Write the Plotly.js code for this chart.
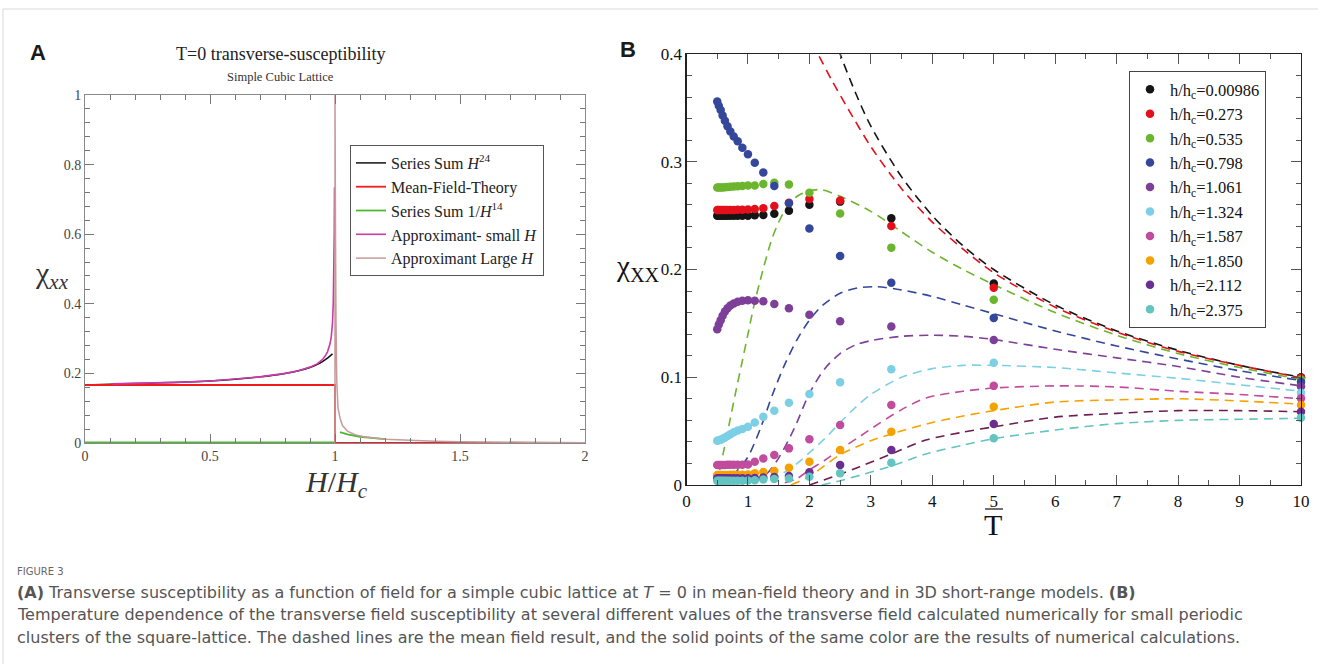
<!DOCTYPE html>
<html>
<head>
<meta charset="utf-8">
<script src="https://cdn.plot.ly/plotly-3.0.1.min.js"></script>
<style>
html,body{margin:0;padding:0;background:#fff;}
#chart{width:1318px;height:664px;}
</style>
</head>
<body>
<div id="chart"></div>
<script>
// ---------- Panel A data (H/Hc vs chi_xx) ----------
const seriesH24_H = [0, 0.1, 0.2, 0.3, 0.4, 0.5, 0.6, 0.7, 0.8, 0.85, 0.9, 0.93, 0.95, 0.97, 0.99];
const seriesH24_chi = [0.1667, 0.169, 0.171, 0.173, 0.175, 0.178, 0.183, 0.190, 0.200, 0.207, 0.217, 0.226, 0.234, 0.244, 0.256];

const mft_H = [0, 1, 1, 2];
const mft_chi = [0.1667, 0.1667, 0, 0];

const seriesInv_H = [0, 1, null, 1.02, 1.05, 1.1, 1.15, 1.2];
const seriesInv_chi = [0.002, 0.002, null, 0.031, 0.025, 0.018, 0.014, 0.011];

const approxSmall_H = [0.11, 0.2, 0.3, 0.4, 0.5, 0.6, 0.7, 0.8, 0.85, 0.9, 0.93, 0.95, 0.96, 0.97, 0.98, 0.985, 0.99, 0.993, 0.995, 0.997, 0.998];
const approxSmall_chi = [0.170, 0.171, 0.173, 0.175, 0.178, 0.183, 0.190, 0.200, 0.207, 0.218, 0.228, 0.240, 0.249, 0.262, 0.285, 0.305, 0.345, 0.40, 0.48, 0.60, 0.735];

const approxLarge_H = [1.0, 1.0, 1.002, 1.004, 1.007, 1.012, 1.02, 1.03, 1.05, 1.08, 1.12, 1.2, 1.3, 1.4, 1.5, 1.7, 2.0];
const approxLarge_chi = [0.0, 1.0, 0.60, 0.35, 0.18, 0.10, 0.072, 0.05, 0.034, 0.024, 0.017, 0.011, 0.007, 0.005, 0.0035, 0.002, 0.001];

const legendA = ["Series Sum <i>H</i><sup>24</sup>", "Mean-Field-Theory", "Series Sum 1/<i>H</i><sup>14</sup>", "Approximant- small <i>H</i>", "Approximant Large <i>H</i>"];
const ticksA_x = [0, 0.5, 1, 1.5, 2];
const ticksA_y = [0, 0.2, 0.4, 0.6, 0.8, 1];

// ---------- Panel B data (T vs chi_xx) ----------
const T_pts = [0.5, 0.526, 0.556, 0.588, 0.625, 0.667, 0.714, 0.769, 0.833, 0.909, 1.0, 1.111, 1.25, 1.429, 1.667, 2.0, 2.5, 3.333, 5.0, 10.0];

const pts_00986 = [0.250,0.250,0.250,0.250,0.250,0.250,0.250,0.250,0.250,0.250,0.250,0.2503,0.2506,0.2518,0.2546,0.260,0.263,0.2475,0.187,0.0999];
const pts_0273  = [0.2552,0.2552,0.2552,0.2552,0.2552,0.2552,0.2553,0.2553,0.2554,0.2555,0.2557,0.2562,0.2568,0.259,0.262,0.2654,0.264,0.2404,0.183,0.0995];
const pts_0535  = [0.276,0.276,0.276,0.2762,0.2764,0.2766,0.2768,0.277,0.2773,0.2776,0.278,0.278,0.2793,0.2806,0.279,0.2713,0.252,0.2203,0.172,0.098];
const pts_0798  = [0.356,0.352,0.348,0.343,0.338,0.333,0.328,0.3235,0.319,0.313,0.307,0.299,0.290,0.2775,0.2614,0.238,0.2125,0.1877,0.155,0.0955];
const pts_1061  = [0.1445,0.149,0.153,0.157,0.161,0.164,0.1665,0.1685,0.170,0.171,0.1715,0.171,0.1705,0.168,0.164,0.158,0.152,0.147,0.1346,0.0915];
const pts_1324  = [0.041,0.0415,0.042,0.043,0.044,0.0455,0.047,0.049,0.0505,0.052,0.054,0.058,0.0634,0.069,0.0764,0.0845,0.0953,0.1074,0.1135,0.0857];
const pts_1587  = [0.0186,0.0186,0.0186,0.0186,0.0186,0.0187,0.0187,0.0188,0.0188,0.0189,0.019,0.0216,0.0247,0.0278,0.034,0.0424,0.0557,0.0742,0.092,0.0804];
const pts_1850  = [0.0093,0.0093,0.0093,0.0093,0.0093,0.0093,0.0094,0.0094,0.0095,0.0096,0.0098,0.011,0.012,0.013,0.016,0.0216,0.0325,0.0495,0.0727,0.0742];
const pts_2112  = [0.0062,0.0062,0.0062,0.0062,0.0062,0.0062,0.0062,0.0062,0.0062,0.0063,0.0063,0.0065,0.007,0.0075,0.0084,0.0118,0.0186,0.0325,0.0566,0.068];
const pts_2375  = [0.004,0.004,0.004,0.004,0.004,0.004,0.004,0.004,0.004,0.004,0.0042,0.0045,0.005,0.0055,0.006,0.0077,0.011,0.0207,0.0433,0.0625];

// mean-field dashed curves
const mfT_00986 = [2.4, 2.5, 2.75, 3, 3.5, 4, 4.5, 5, 6, 7, 8, 9, 10];
const mf_00986  = [0.417, 0.4, 0.364, 0.333, 0.286, 0.25, 0.222, 0.2, 0.167, 0.143, 0.125, 0.111, 0.1];
const mfT_0273 = [2.05, 2.14, 2.36, 2.6, 3.0, 3.5, 4.0, 4.5, 5, 6, 7, 8, 9, 10];
const mf_0273  = [0.41, 0.4, 0.376, 0.352, 0.314, 0.275, 0.244, 0.219, 0.197, 0.165, 0.142, 0.124, 0.111, 0.0995];
const mfT_0535 = [0.49, 0.6, 0.7, 0.8, 0.9, 1.0, 1.1, 1.2, 1.4, 1.6, 1.8, 2.0, 2.2, 2.5, 3.0, 3.5, 4.0, 4.5, 5, 6, 7, 8, 9, 10];
const mf_0535  = [0, 0.03, 0.058, 0.086, 0.113, 0.14, 0.167, 0.19, 0.23, 0.255, 0.268, 0.273, 0.274, 0.268, 0.254, 0.235, 0.216, 0.2, 0.186, 0.16, 0.139, 0.122, 0.109, 0.098];
const mfT_0798 = [0.55, 0.7, 0.85, 1.0, 1.2, 1.4, 1.6, 1.8, 2.0, 2.2, 2.5, 2.8, 3.1, 3.5, 4.0, 4.5, 5, 6, 7, 8, 9, 10];
const mf_0798  = [0, 0.006, 0.015, 0.026, 0.052, 0.084, 0.112, 0.135, 0.153, 0.166, 0.178, 0.183, 0.184, 0.181, 0.175, 0.167, 0.159, 0.143, 0.129, 0.117, 0.106, 0.097];
const mfT_1061 = [1.1, 1.3, 1.5, 1.75, 2.0, 2.25, 2.5, 2.75, 3.0, 3.5, 4.0, 4.5, 5, 6, 7, 8, 9, 10];
const mf_1061  = [0.002, 0.01, 0.025, 0.052, 0.085, 0.108, 0.122, 0.13, 0.134, 0.138, 0.139, 0.138, 0.135, 0.126, 0.118, 0.11, 0.1, 0.092];
const mfT_1324 = [1.36, 1.6, 1.8, 2.0, 2.25, 2.5, 2.75, 3.0, 3.5, 4.0, 4.5, 5, 6, 7, 8, 9, 10];
const mf_1324  = [0.0046, 0.012, 0.02, 0.03, 0.043, 0.058, 0.072, 0.084, 0.1, 0.108, 0.111, 0.111, 0.109, 0.104, 0.099, 0.093, 0.087];
const mfT_1587 = [1.6, 1.8, 2.0, 2.25, 2.5, 2.82, 3.0, 3.5, 3.91, 4.5, 5, 6, 7, 8, 9, 10];
const mf_1587  = [0.002, 0.006, 0.014, 0.023, 0.033, 0.045, 0.052, 0.07, 0.081, 0.087, 0.09, 0.092, 0.091, 0.087, 0.084, 0.08];
const mfT_1850 = [1.7, 2.0, 2.5, 3.0, 3.37, 4.0, 4.5, 5, 6, 7, 8, 9, 10];
const mf_1850  = [0.0, 0.008, 0.028, 0.041, 0.048, 0.058, 0.064, 0.069, 0.077, 0.079, 0.08, 0.078, 0.075];
const mfT_2112 = [2.0, 2.5, 2.82, 3.3, 3.91, 4.5, 5, 6, 7, 8, 9, 10];
const mf_2112  = [0.0, 0.01, 0.017, 0.028, 0.042, 0.049, 0.054, 0.063, 0.0665, 0.069, 0.069, 0.068];
const mfT_2375 = [2.2, 2.5, 2.82, 3.3, 3.91, 4.5, 5, 6, 7, 8, 9, 10];
const mf_2375  = [0.0, 0.004, 0.009, 0.017, 0.029, 0.037, 0.043, 0.051, 0.057, 0.06, 0.061, 0.062];

const fieldLabels = ["0.00986", "0.273", "0.535", "0.798", "1.061", "1.324", "1.587", "1.850", "2.112", "2.375"];
const ticksB_x = [0,1,2,3,4,5,6,7,8,9,10];
const ticksB_y = [0, 0.1, 0.2, 0.3, 0.4];

// ---------- styling ----------
const W = 1318, H = 664;
const px = v => v / W;
const py = v => 1 - v / H;
const SERIF = "Liberation Serif, Times New Roman, serif";
const CAP = "DejaVu Sans, sans-serif";

const ptColors = ["#151515", "#e3101c", "#6cb52e", "#34479b", "#7d3f98", "#7ccfe4", "#c14b9d", "#f5a200", "#6a2f8f", "#63c4c1"];
const lnColors = ["#151515", "#e3101c", "#6cb52e", "#34479b", "#7d3f98", "#7ccfe4", "#c14b9d", "#f5a200", "#6d1d52", "#63c4c1"];
const ptSeries = [pts_00986, pts_0273, pts_0535, pts_0798, pts_1061, pts_1324, pts_1587, pts_1850, pts_2112, pts_2375];
const mfX = [mfT_00986, mfT_0273, mfT_0535, mfT_0798, mfT_1061, mfT_1324, mfT_1587, mfT_1850, mfT_2112, mfT_2375];
const mfY = [mf_00986, mf_0273, mf_0535, mf_0798, mf_1061, mf_1324, mf_1587, mf_1850, mf_2112, mf_2375];

const data = [];
// Panel A traces
data.push({x: seriesH24_H, y: seriesH24_chi, mode: 'lines', name: legendA[0], line: {color: '#111', width: 1.5, shape: 'spline'}, xaxis: 'x', yaxis: 'y', legend: 'legend'});
data.push({x: mft_H, y: mft_chi, mode: 'lines', name: legendA[1], line: {color: '#ee1c1c', width: 1.8}, xaxis: 'x', yaxis: 'y', legend: 'legend'});
data.push({x: seriesInv_H, y: seriesInv_chi, mode: 'lines', name: legendA[2], line: {color: '#4cb830', width: 1.8}, connectgaps: false, xaxis: 'x', yaxis: 'y', legend: 'legend'});
data.push({x: approxSmall_H, y: approxSmall_chi, mode: 'lines', name: legendA[3], line: {color: '#cc3aa8', width: 1.6}, xaxis: 'x', yaxis: 'y', legend: 'legend'});
data.push({x: approxLarge_H, y: approxLarge_chi, mode: 'lines', name: legendA[4], line: {color: '#c89a9a', width: 1.5}, xaxis: 'x', yaxis: 'y', legend: 'legend'});

// Panel B dashed mean-field curves
for (let i = 0; i < 10; i++) {
  data.push({x: mfX[i], y: mfY[i], mode: 'lines', showlegend: false, hoverinfo: 'skip',
    line: {color: lnColors[i], width: 1.6, dash: '9px,6px', shape: 'spline', smoothing: 0.8},
    xaxis: 'x2', yaxis: 'y2'});
}
// Panel B points
for (let i = 0; i < 10; i++) {
  data.push({x: T_pts, y: ptSeries[i], mode: 'markers', name: 'h/h<sub>c</sub>=' + fieldLabels[i],
    marker: {color: ptColors[i], size: 8.5, line: {width: 0}},
    xaxis: 'x2', yaxis: 'y2', legend: 'legend2', cliponaxis: false});
}

const axA = {
  showgrid: false, zeroline: false, showline: true, linecolor: '#8a8a8a', linewidth: 1,
  mirror: 'allticks', ticks: 'inside', tickcolor: '#777', ticklen: 9, tickwidth: 1,
  tickfont: {family: SERIF, size: 14, color: '#444'}
};
const axB = {
  showgrid: false, zeroline: false, showline: true, linecolor: '#222', linewidth: 1.2,
  mirror: 'allticks', ticks: 'inside', tickcolor: '#555', ticklen: 10, tickwidth: 1,
  tickfont: {family: SERIF, size: 17, color: '#111'}
};

function ann(text, x, y, font, xa, ya) {
  return {text: text, x: px(x), y: py(y), xref: 'paper', yref: 'paper', showarrow: false,
    xanchor: xa || 'center', yanchor: ya || 'middle', font: font};
}

const layout = {
  width: W, height: H,
  margin: {l: 0, r: 0, t: 0, b: 0},
  paper_bgcolor: '#fff', plot_bgcolor: '#fff',
  showlegend: true,
  xaxis: Object.assign({}, axA, {domain: [px(85), px(585)], range: [0, 2], anchor: 'y',
    tickvals: ticksA_x, ticktext: ['0', '0.5', '1', '1.5', '2'],
    minor: {dtick: 0.1, ticks: 'inside', ticklen: 5, tickcolor: '#777'}}),
  yaxis: Object.assign({}, axA, {domain: [py(443), py(95)], range: [0, 1], anchor: 'x',
    tickvals: ticksA_y, ticktext: ['0', '0.2', '0.4', '0.6', '0.8', '1'],
    minor: {dtick: 0.04, ticks: 'inside', ticklen: 5, tickcolor: '#777'}}),
  xaxis2: Object.assign({}, axB, {domain: [px(686.5), px(1301)], range: [0, 10], anchor: 'y2',
    tickvals: ticksB_x, ticktext: ticksB_x.map(String),
    minor: {dtick: 0.5, ticks: 'inside', ticklen: 5, tickcolor: '#555'}}),
  yaxis2: Object.assign({}, axB, {domain: [py(485), py(54)], range: [0, 0.4], anchor: 'x2',
    tickvals: ticksB_y, ticktext: ['0', '0.1', '0.2', '0.3', '0.4'],
    minor: {dtick: 0.02, ticks: 'inside', ticklen: 5, tickcolor: '#555'}}),
  legend: {x: px(350), y: py(145), xanchor: 'left', yanchor: 'top',
    bgcolor: '#fff', bordercolor: '#555', borderwidth: 1,
    font: {family: SERIF, size: 16, color: '#222'}, tracegroupgap: 0, itemwidth: 30,
    traceorder: 'normal'},
  legend2: {x: px(1129), y: py(71), xanchor: 'left', yanchor: 'top',
    bgcolor: '#fff', bordercolor: '#444', borderwidth: 1,
    font: {family: SERIF, size: 16.5, color: '#111'}, tracegroupgap: 0, itemwidth: 30,
    traceorder: 'normal'},
  shapes: [
    {type: 'rect', xref: 'paper', yref: 'paper', x0: px(3), x1: px(1330), y0: py(9), y1: py(700),
      line: {color: '#d9d9d9', width: 1}, fillcolor: 'rgba(0,0,0,0)', layer: 'below'},
    {type: 'line', xref: 'paper', yref: 'paper', x0: px(985), x1: px(1003), y0: py(509), y1: py(509),
      line: {color: '#111', width: 1.2}}
  ],
  annotations: [
    ann('<b>A</b>', 38, 53, {family: 'Liberation Sans, Arial, sans-serif', size: 22, color: '#1a1a1a'}),
    ann('<b>B</b>', 628, 49, {family: 'Liberation Sans, Arial, sans-serif', size: 22, color: '#1a1a1a'}),
    ann('T=0 transverse-susceptibility', 281, 54, {family: SERIF, size: 18, color: '#222'}),
    ann('Simple Cubic Lattice', 280, 77, {family: SERIF, size: 12.5, color: '#333'}),
    ann('χ<sub><i>xx</i></sub>', 52, 275, {family: SERIF, size: 30, color: '#333'}),
    ann('<i>H</i>/<i>H</i><sub><i>c</i></sub>', 336, 484, {family: SERIF, size: 30, color: '#333'}),
    ann('χ<sub>XX</sub>', 638, 268, {family: SERIF, size: 29, color: '#111'}),
    ann('T', 993, 524, {family: SERIF, size: 30, color: '#111'}),
    ann('FIGURE 3', 15, 571, {family: CAP, size: 10, color: '#666'}, 'left'),
    ann('<b>(A)</b> Transverse susceptibility as a function of field for a simple cubic lattice at <i>T</i> = 0 in mean-field theory and in 3D short-range models. <b>(B)</b>',
      15, 592, {family: CAP, size: 16, color: '#555'}, 'left'),
    ann('Temperature dependence of the transverse field susceptibility at several different values of the transverse field calculated numerically for small periodic',
      15, 614, {family: CAP, size: 16, color: '#555'}, 'left'),
    ann('clusters of the square-lattice. The dashed lines are the mean field result, and the solid points of the same color are the results of numerical calculations.',
      15, 637, {family: CAP, size: 16, color: '#555'}, 'left')
  ]
};

Plotly.newPlot('chart', data, layout, {displayModeBar: false, staticPlot: true});
</script>
</body>
</html>
